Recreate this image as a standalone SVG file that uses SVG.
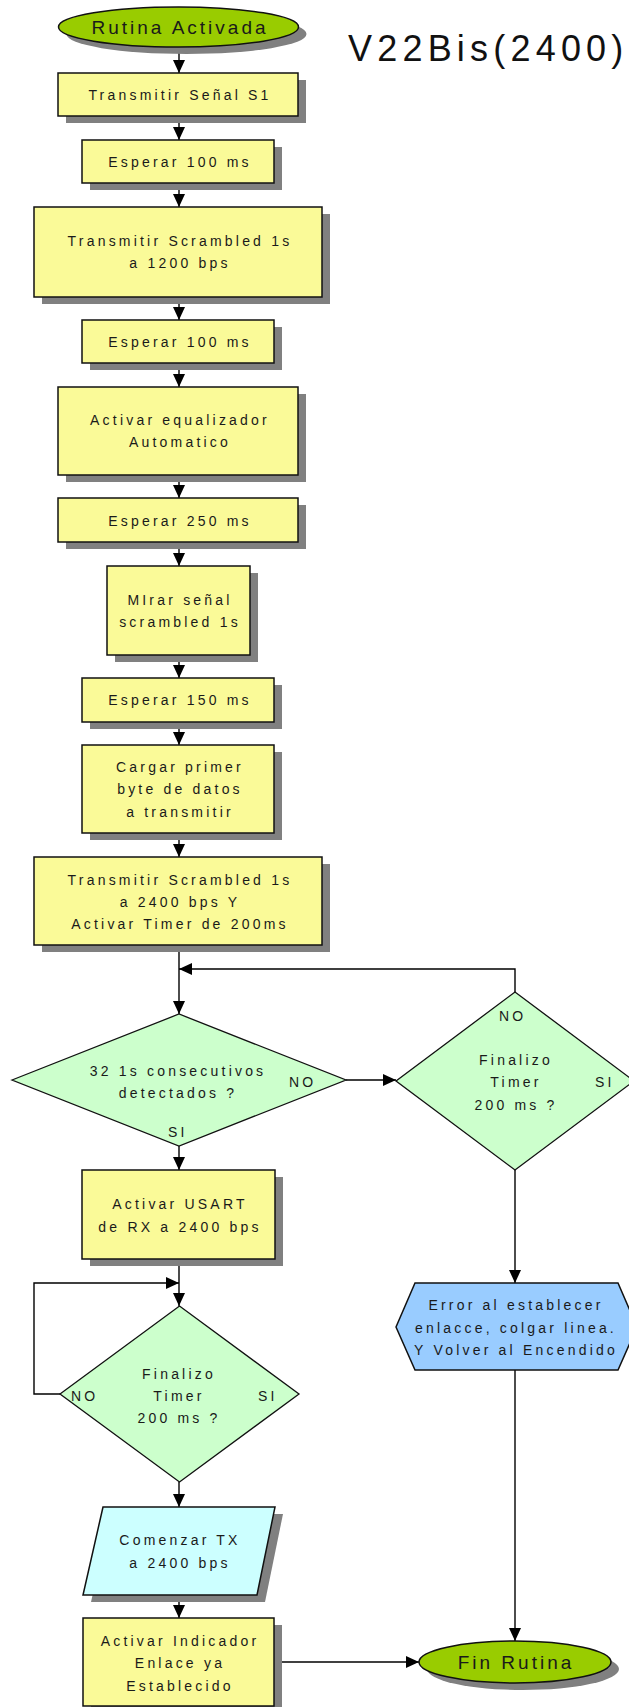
<svg xmlns="http://www.w3.org/2000/svg" width="629" height="1707" viewBox="0 0 629 1707">
  <style>
    .proc { fill: #FAFA98; stroke: #111; stroke-width: 1.5; }
    .term { fill: #99CC00; stroke: #111; stroke-width: 1.5; }
    .dec { fill: #CCFFCC; stroke: #111; stroke-width: 1.3; }
    .io { fill: #CCFFFF; stroke: #111; stroke-width: 1.5; }
    .prep { fill: #99CCFF; stroke: #111; stroke-width: 1.5; }
    .shadow { fill: #808080; stroke: none; }
    .t { font-family: "Liberation Sans", Arial, sans-serif; font-size: 14px; letter-spacing: 3.2px; fill: #1a1a1a; text-anchor: middle; }
    .lbl { font-family: "Liberation Sans", Arial, sans-serif; font-size: 14px; letter-spacing: 3.2px; fill: #1a1a1a; }
    .big { font-family: "Liberation Sans", Arial, sans-serif; font-size: 19px; letter-spacing: 3px; fill: #1a1a1a; text-anchor: middle; }
    .title { font-family: "Liberation Sans", Arial, sans-serif; font-size: 36px; letter-spacing: 5.2px; fill: #111; }
    .edge { fill: none; stroke: #000; stroke-width: 1.4; }
  </style>
  <defs>
    <marker id="ah" markerWidth="13" markerHeight="12" refX="13" refY="6" orient="auto" markerUnits="userSpaceOnUse">
      <path d="M0,0 L13,6 L0,12 Z" fill="#000"/>
    </marker>
  </defs>

  <rect width="629" height="1707" fill="#fff"/>

  <text class="title" x="348" y="61">V22Bis(2400)</text>

  <!-- connectors -->
  <g id="connectors">
    <line class="edge" x1="179" y1="47" x2="179" y2="73" marker-end="url(#ah)"/>
    <line class="edge" x1="179" y1="116" x2="179" y2="140" marker-end="url(#ah)"/>
    <line class="edge" x1="179" y1="183" x2="179" y2="207" marker-end="url(#ah)"/>
    <line class="edge" x1="179" y1="297" x2="179" y2="320" marker-end="url(#ah)"/>
    <line class="edge" x1="179" y1="363" x2="179" y2="387" marker-end="url(#ah)"/>
    <line class="edge" x1="179" y1="475" x2="179" y2="498" marker-end="url(#ah)"/>
    <line class="edge" x1="179" y1="542" x2="179" y2="566" marker-end="url(#ah)"/>
    <line class="edge" x1="179" y1="655" x2="179" y2="678" marker-end="url(#ah)"/>
    <line class="edge" x1="179" y1="722" x2="179" y2="745" marker-end="url(#ah)"/>
    <line class="edge" x1="179" y1="833" x2="179" y2="857" marker-end="url(#ah)"/>
    <line class="edge" x1="179" y1="945" x2="179" y2="1014" marker-end="url(#ah)"/>
    <polyline class="edge" points="515,992 515,969 179,969" marker-end="url(#ah)"/>
    <line class="edge" x1="346" y1="1080" x2="396" y2="1080" marker-end="url(#ah)"/>
    <line class="edge" x1="179" y1="1146" x2="179" y2="1170" marker-end="url(#ah)"/>
    <line class="edge" x1="515" y1="1170" x2="515" y2="1283" marker-end="url(#ah)"/>
    <line class="edge" x1="179" y1="1259" x2="179" y2="1306" marker-end="url(#ah)"/>
    <polyline class="edge" points="60,1394 34,1394 34,1283 179,1283" marker-end="url(#ah)"/>
    <line class="edge" x1="179" y1="1482" x2="179" y2="1507" marker-end="url(#ah)"/>
    <line class="edge" x1="179" y1="1595" x2="179" y2="1618" marker-end="url(#ah)"/>
    <line class="edge" x1="274" y1="1662" x2="419" y2="1662" marker-end="url(#ah)"/>
    <line class="edge" x1="515" y1="1370" x2="515" y2="1641" marker-end="url(#ah)"/>
  </g>

  <!-- start -->
  <g id="n_start">
    <ellipse class="shadow" cx="186.5" cy="34" rx="120" ry="20"/>
    <ellipse class="term" cx="178.5" cy="27" rx="120" ry="20"/>
    <text class="big" x="180" y="34">Rutina Activada</text>
  </g>

  <g id="n_s1">
    <rect class="shadow" x="66" y="80" width="240" height="43"/>
    <rect class="proc" x="58" y="73" width="240" height="43"/>
    <text class="t" x="180" y="100">Transmitir Señal S1</text>
  </g>

  <g id="n_wait100a">
    <rect class="shadow" x="90" y="147" width="192" height="43"/>
    <rect class="proc" x="82" y="140" width="192" height="43"/>
    <text class="t" x="180" y="167">Esperar 100 ms</text>
  </g>

  <g id="n_scr1200">
    <rect class="shadow" x="42" y="214" width="288" height="90"/>
    <rect class="proc" x="34" y="207" width="288" height="90"/>
    <text class="t" x="180" y="246">Transmitir Scrambled 1s</text>
    <text class="t" x="180" y="268">a 1200 bps</text>
  </g>

  <g id="n_wait100b">
    <rect class="shadow" x="90" y="327" width="192" height="43"/>
    <rect class="proc" x="82" y="320" width="192" height="43"/>
    <text class="t" x="180" y="347">Esperar 100 ms</text>
  </g>

  <g id="n_eq">
    <rect class="shadow" x="66" y="394" width="240" height="88"/>
    <rect class="proc" x="58" y="387" width="240" height="88"/>
    <text class="t" x="180" y="425">Activar equalizador</text>
    <text class="t" x="180" y="447">Automatico</text>
  </g>

  <g id="n_wait250">
    <rect class="shadow" x="66" y="505" width="240" height="44"/>
    <rect class="proc" x="58" y="498" width="240" height="44"/>
    <text class="t" x="180" y="526">Esperar 250 ms</text>
  </g>

  <g id="n_mirar">
    <rect class="shadow" x="115" y="573" width="143" height="89"/>
    <rect class="proc" x="107" y="566" width="143" height="89"/>
    <text class="t" x="180" y="605">MIrar señal</text>
    <text class="t" x="180" y="627">scrambled 1s</text>
  </g>

  <g id="n_wait150">
    <rect class="shadow" x="90" y="685" width="192" height="44"/>
    <rect class="proc" x="82" y="678" width="192" height="44"/>
    <text class="t" x="180" y="705">Esperar 150 ms</text>
  </g>

  <g id="n_cargar">
    <rect class="shadow" x="90" y="752" width="192" height="88"/>
    <rect class="proc" x="82" y="745" width="192" height="88"/>
    <text class="t" x="180" y="772">Cargar primer</text>
    <text class="t" x="180" y="794">byte de datos</text>
    <text class="t" x="180" y="817">a transmitir</text>
  </g>

  <g id="n_scr2400">
    <rect class="shadow" x="42" y="864" width="288" height="88"/>
    <rect class="proc" x="34" y="857" width="288" height="88"/>
    <text class="t" x="180" y="885">Transmitir Scrambled 1s</text>
    <text class="t" x="180" y="907">a 2400 bps Y</text>
    <text class="t" x="180" y="929">Activar Timer de 200ms</text>
  </g>

  <g id="n_dec32">
    <polygon class="dec" points="12,1080 179,1014 346,1080 179,1146"/>
    <text class="t" x="178" y="1076">32 1s consecutivos</text>
    <text class="t" x="178" y="1098">detectados ?</text>
    <text class="lbl" x="289" y="1087">NO</text>
    <text class="lbl" x="168" y="1137">SI</text>
  </g>

  <g id="n_timer1">
    <polygon class="dec" points="396,1081 515,992 634,1081 515,1170"/>
    <text class="lbl" x="499" y="1021">NO</text>
    <text class="t" x="516" y="1065">Finalizo</text>
    <text class="t" x="516" y="1087">Timer</text>
    <text class="t" x="516" y="1110">200 ms ?</text>
    <text class="lbl" x="595" y="1087">SI</text>
  </g>

  <g id="n_usart">
    <rect class="shadow" x="90" y="1177" width="193" height="89"/>
    <rect class="proc" x="82" y="1170" width="193" height="89"/>
    <text class="t" x="180" y="1209">Activar USART</text>
    <text class="t" x="180" y="1232">de RX a 2400 bps</text>
  </g>

  <g id="n_timer2">
    <polygon class="dec" points="60,1394 179.5,1306 299,1394 179.5,1482"/>
    <text class="t" x="179" y="1379">Finalizo</text>
    <text class="t" x="179" y="1401">Timer</text>
    <text class="t" x="179" y="1423">200 ms ?</text>
    <text class="lbl" x="71" y="1401">NO</text>
    <text class="lbl" x="258" y="1401">SI</text>
  </g>

  <g id="n_error">
    <polygon class="prep" points="396,1327 415,1283 618,1283 637,1327 618,1370 415,1370"/>
    <text class="t" x="516" y="1310">Error al establecer</text>
    <text class="t" x="516" y="1333">enlacce, colgar linea.</text>
    <text class="t" x="516" y="1355">Y Volver al Encendido</text>
  </g>

  <g id="n_tx">
    <polygon class="shadow" points="111,1514 283,1514 265,1602 91,1602"/>
    <polygon class="io" points="103,1507 275,1507 257,1595 83,1595"/>
    <text class="t" x="180" y="1545">Comenzar TX</text>
    <text class="t" x="180" y="1568">a 2400 bps</text>
  </g>

  <g id="n_indicador">
    <rect class="shadow" x="91" y="1625" width="191" height="88"/>
    <rect class="proc" x="83" y="1618" width="191" height="88"/>
    <text class="t" x="180" y="1646">Activar Indicador</text>
    <text class="t" x="180" y="1668">Enlace ya</text>
    <text class="t" x="180" y="1691">Establecido</text>
  </g>

  <g id="n_end">
    <ellipse class="shadow" cx="523" cy="1669" rx="96" ry="21"/>
    <ellipse class="term" cx="515" cy="1662" rx="96" ry="21"/>
    <text class="big" x="516" y="1669">Fin Rutina</text>
  </g>
</svg>
